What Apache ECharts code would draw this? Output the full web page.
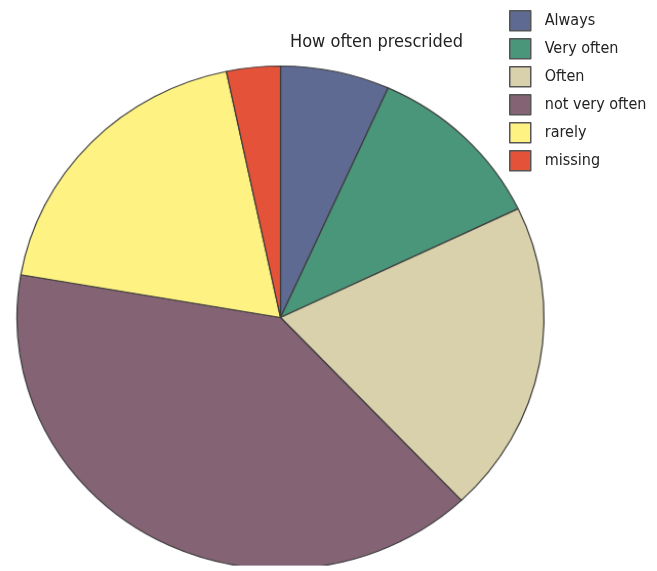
<!DOCTYPE html>
<html>
<head>
<meta charset="utf-8">
<script src="https://cdn.jsdelivr.net/npm/echarts@6/dist/echarts.min.js"></script>
<style>
html,body{margin:0;padding:0;background:#fff;}
#wrap{position:relative;width:657px;height:571px;overflow:hidden;}
#pie{position:absolute;left:0;top:0;width:657px;height:571px;transform-origin:280.5px 317.5px;transform:scale(1.0253,0.9786);}
#chart{position:absolute;left:0;top:0;width:657px;height:571px;}
</style>
</head>
<body>
<div id="wrap">
<div id="pie"></div>
<div id="chart"></div>
</div>
<script>
const categories = ['Always', 'Very often', 'Often', 'not very often', 'rarely', 'missing'];
const values = [6.7, 11.2, 20.1, 39.8, 19.0, 3.3];
const colors = ['#5f6a93', '#4a967a', '#d8d1ab', '#836374', '#fef283', '#e5523a'];
const titleText = 'How often prescrided';

const FONT = "'Liberation Sans Narrow', 'DejaVu Sans Condensed', 'Roboto', sans-serif";

const pie = echarts.init(document.getElementById('pie'));
pie.setOption({
  animation: false,
  series: [{
    type: 'pie',
    center: [280.5, 317.5],
    radius: 257,
    startAngle: 90,
    clockwise: true,
    label: { show: false },
    labelLine: { show: false },
    emphasis: { disabled: true },
    itemStyle: { borderColor: '#3c3c3c', borderWidth: 1.2 },
    data: categories.map((c, i) => ({ name: c, value: values[i], itemStyle: { color: colors[i] } }))
  }]
});

const chart = echarts.init(document.getElementById('chart'));
chart.setOption({
  animation: false,
  title: {
    text: titleText,
    left: 290,
    top: 33,
    padding: 0,
    textStyle: { fontFamily: FONT, fontSize: 18, fontWeight: 'normal', color: '#222' }
  },
  legend: {
    orient: 'vertical',
    left: 509,
    top: 10,
    padding: 0,
    itemWidth: 21,
    itemHeight: 20,
    itemGap: 6.5,
    icon: 'rect',
    itemStyle: { borderColor: '#555', borderWidth: 1.5, opacity: 1 },
    textStyle: { fontFamily: FONT, fontSize: 16, color: '#222', padding: [0, 0, 0, 9] },
    data: categories.map((c, i) => ({ name: c, itemStyle: { color: colors[i], opacity: 1, borderColor: '#555', borderWidth: 1.5 } }))
  },
  series: [{
    type: 'pie',
    radius: 0,
    silent: true,
    label: { show: false },
    labelLine: { show: false },
    data: categories.map((c, i) => ({ name: c, value: values[i], itemStyle: { color: colors[i] } }))
  }]
});
</script>
</body>
</html>
